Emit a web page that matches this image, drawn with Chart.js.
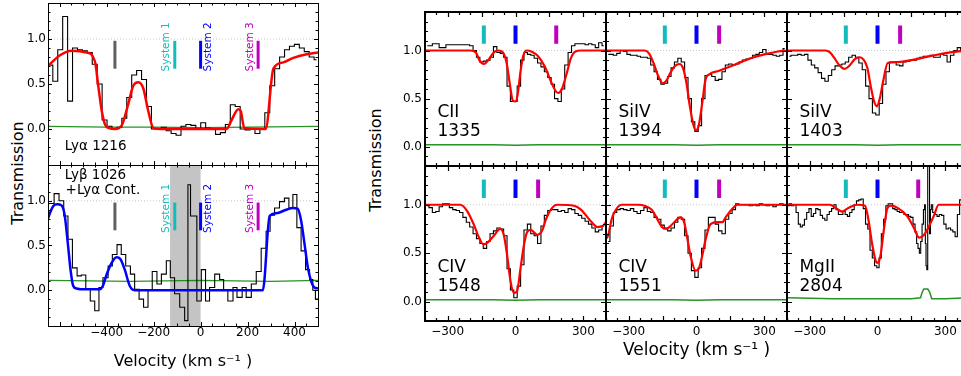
<!DOCTYPE html>
<html>
<head>
<meta charset="utf-8">
<script src="https://cdn.jsdelivr.net/npm/chart.js@4.4.1/dist/chart.umd.min.js"></script>
<style>
body{margin:0;background:#fff;width:961px;height:376px;overflow:hidden;position:relative;font-family:"DejaVu Sans",sans-serif}
canvas{position:absolute}
.ylab{position:absolute;font-size:16px;white-space:nowrap;transform:translate(-50%,-50%) rotate(-90deg)}
</style>
</head>
<body>
<div class="ylab" style="left:17px;top:173px">Transmission</div>
<div class="ylab" style="left:375px;top:160px">Transmission</div>
<script>
// Lyman alpha: binned flux on a regular velocity grid (km/s)
var lyaStart = -640, lyaStep = 21;
var lyaFlux = [0.71,0.53,0.88,1.25,0.31,0.9,0.88,0.87,0.85,0.72,0.5,0.1,0.03,0.0,0.02,0.12,0.35,0.6,0.65,0.55,
  0.25,0.0,0.0,0.02,-0.02,-0.05,-0.07,0.03,0.05,0.04,0.0,0.07,0.01,0.0,-0.06,-0.04,0.05,0.27,0.25,0.0,
  -0.01,0.0,-0.05,0.0,0.18,0.48,0.67,0.8,0.88,0.92,0.94,0.9,0.86,0.8,0.77];
var lyaModelVel = [-650,-599,-549,-485,-450,-436,-421,-407,-390,-365,-336,-308,-287,-265,-244,-223,-201,-173,111,132,161,171,186,277,310,352,395,452,500];
var lyaModelFlux = [0.7,0.82,0.87,0.85,0.75,0.48,0.2,0.05,0.01,0.0,0.04,0.28,0.48,0.52,0.45,0.2,0.01,0.0,0.0,0.1,0.22,0.2,0.01,0.0,0.67,0.74,0.79,0.83,0.85];
var lyaErrVel = [-650,-400,-200,0,200,500];
var lyaErrFlux = [0.03,0.02,0.02,0.015,0.02,0.03];

// Lyman beta (+ Lyman alpha contamination): bin left edges and flux
var lybEdges = [-650,-624,-603,-583,-565,-546,-526,-508,-489,-470,-451,-433,-416,-394,-376,-356,-338,-319,-299,-281,
  -262,-243,-224,-206,-186,-167,-146,-129,-111,-89,-68,-54,-43,-16,3,21,38,60,81,98,
  116,138,155,177,194,216,237,258,279,296,315,336,357,376,393,410,428,447,464,478,489,500];
var lybFlux = [0.97,1.08,1.0,0.83,0.57,0.25,0.16,0.17,0.01,-0.12,-0.23,0.03,0.14,0.27,0.4,0.51,0.4,0.27,0.18,0.01,
  -0.1,-0.19,0.0,0.21,0.07,0.18,0.33,0.14,-0.04,-0.19,-0.34,1.18,0.83,-0.12,0.23,-0.12,0.03,0.18,0.12,0.0,
  -0.12,0.03,-0.08,0.03,-0.08,0.07,0.21,0.47,0.66,0.84,0.92,0.99,1.03,0.92,1.07,0.7,0.44,0.23,0.12,0.0,-0.1,-0.1];
var lybModelVel = [-650,-645,-628,-611,-593,-579,-565,-555,-543,-529,-487,-430,-416,-401,-380,-359,-342,-323,-302,-281,265,294,322,365,393,414,428,443,457,471,485,500];
var lybModelFlux = [0.8,0.84,0.94,0.96,0.95,0.84,0.51,0.25,0.05,0.02,0.01,0.01,0.05,0.17,0.3,0.37,0.35,0.23,0.05,0.0,0.0,0.83,0.86,0.9,0.92,0.91,0.78,0.51,0.25,0.1,0.03,0.02];
var lybErrVel = [-650,-300,0,300,500];
var lybErrFlux = [0.11,0.1,0.11,0.1,0.11];
var lybMaskedVel = [-130, 0];

// metal lines: regular 15 km/s grid
var metalStart = -390, metalStep = 15;
var ciiFlux = [1.05,1.05,1.07,1.07,1.03,1.03,1.06,1.06,1.06,1.06,1.06,1.06,1.06,1.05,1.0,0.93,0.88,0.89,0.9,0.93,
  1.04,0.98,0.97,0.93,0.63,0.47,0.47,0.63,0.9,0.98,0.96,0.95,0.92,0.87,0.83,0.78,0.72,0.65,0.5,0.47,
  0.6,0.85,0.98,1.05,1.07,1.07,1.07,1.06,1.07,1.06,1.03,1.08,1.05];
var ciiModelVel = [-400,-200,-175,-160,-140,-120,-100,-80,-60,-40,-25,-12,0,10,22,35,50,70,100,130,160,180,190,205,225,245,265,290,400];
var ciiModelFlux = [1,1,0.98,0.9,0.86,0.9,0.97,1.0,0.99,0.88,0.65,0.48,0.47,0.55,0.78,0.95,1.0,0.99,0.94,0.83,0.66,0.57,0.56,0.6,0.75,0.92,0.99,1.0,1.0];

var siiv1394Flux = [0.96,0.96,0.95,0.97,1.0,0.99,0.96,0.95,0.95,0.94,0.93,0.93,0.92,0.85,0.78,0.7,0.65,0.66,0.73,0.82,
  0.88,0.92,0.88,0.72,0.5,0.26,0.16,0.22,0.5,0.74,0.75,0.73,0.69,0.7,0.78,0.85,0.86,0.85,0.86,0.88,
  0.9,0.91,0.92,0.95,0.96,0.98,1.01,0.96,0.96,0.95,0.94,0.95,1.02];
var siiv1394ModelVel = [-400,-230,-210,-190,-170,-150,-135,-115,-95,-75,-60,-45,-30,-15,-3,10,25,40,55,100,166,240,300,360,400];
var siiv1394ModelFlux = [1,1,0.97,0.87,0.74,0.66,0.68,0.77,0.84,0.86,0.82,0.67,0.43,0.24,0.17,0.22,0.45,0.7,0.75,0.79,0.85,0.92,0.96,0.99,1.0];

var siiv1403Flux = [0.94,0.95,0.95,0.96,0.95,0.96,0.9,0.85,0.82,0.77,0.71,0.68,0.74,0.8,0.84,0.85,0.86,0.88,0.93,0.95,
  0.93,0.87,0.8,0.63,0.5,0.35,0.33,0.45,0.65,0.78,0.88,0.88,0.85,0.84,0.88,0.89,0.9,0.9,0.92,0.93,
  0.94,0.94,0.95,0.93,0.93,0.96,0.95,0.88,0.95,1.0,1.03,1.0,1.0];
var siiv1403ModelVel = [-400,-230,-210,-190,-170,-145,-125,-100,-80,-60,-45,-30,-15,-2,10,25,45,90,150,250,320,400];
var siiv1403ModelFlux = [1,1,0.98,0.92,0.85,0.81,0.84,0.91,0.93,0.9,0.82,0.63,0.47,0.42,0.5,0.68,0.87,0.88,0.9,0.95,0.98,1.0];

var civ1548Flux = [0.99,0.97,0.92,0.93,0.98,1.01,1.01,0.97,0.95,0.94,0.92,0.87,0.82,0.77,0.7,0.65,0.6,0.55,0.62,0.7,
  0.73,0.76,0.75,0.68,0.34,0.12,0.04,0.16,0.38,0.74,0.8,0.7,0.68,0.6,0.78,0.89,0.94,0.95,0.95,0.93,
  0.94,0.92,0.96,0.95,0.91,0.89,0.86,0.83,0.8,0.76,0.72,0.74,0.78];
var civ1548ModelVel = [-400,-244,-215,-185,-163,-141,-119,-96,-67,-52,-37,-22,-7,7,22,37,52,67,96,119,133,156,185,259,289,333,363,385,400];
var civ1548ModelFlux = [1,1,0.94,0.8,0.67,0.59,0.62,0.68,0.75,0.69,0.48,0.21,0.09,0.11,0.34,0.58,0.72,0.74,0.69,0.74,0.84,0.95,1.0,0.99,0.95,0.83,0.77,0.78,0.82];

var civ1551Flux = [0.62,0.78,0.92,0.95,0.96,0.95,0.94,0.96,0.93,0.91,0.94,0.97,0.93,0.92,0.87,0.85,0.79,0.76,0.73,0.76,
  0.82,0.87,0.85,0.68,0.5,0.32,0.25,0.35,0.55,0.74,0.87,0.87,0.8,0.73,0.7,0.85,0.91,0.95,1.01,1.0,
  1.0,1.0,0.99,1.0,0.99,1.01,1.0,0.99,1.0,0.98,1.0,1.01,1.0];
var civ1551ModelVel = [-400,-391,-375,-361,-332,-258,-230,-199,-175,-153,-135,-115,-90,-71,-56,-41,-27,-4,10,25,40,62,92,114,129,159,181,400];
var civ1551ModelFlux = [0.65,0.68,0.85,0.93,1.0,1.0,0.99,0.95,0.86,0.77,0.75,0.78,0.84,0.87,0.83,0.66,0.48,0.32,0.34,0.47,0.64,0.8,0.82,0.82,0.87,0.96,1.0,1.0];

// MgII is on a finer, uneven grid: bin centres and flux
var mgiiVel = [-396,-385,-375,-365,-355,-345,-337,-328,-318,-308,-298,-288,-278,-268,-258,-248,-238,-228,-218,-208,
  -198,-188,-178,-168,-158,-148,-138,-128,-118,-108,-98,-88,-78,-68,-58,-48,-38,-28,-18,-8,
  2,12,22,32,42,52,62,72,82,92,102,112,122,132,142,152,162,170,176,182,
  188,194,200,206,210,213,216,220,224,228,232,236,240,248,258,268,278,288,298,308,
  318,328,338,348,358,368,380,392];
var mgiiFlux = [0.99,1.01,0.99,1.0,0.92,0.8,0.77,0.79,0.85,0.92,0.96,0.88,0.91,0.96,0.95,0.89,0.86,0.84,0.9,0.93,
  0.96,1.0,0.95,0.9,0.9,0.93,0.9,0.88,0.92,0.95,1.0,1.04,1.05,1.06,0.96,0.8,0.75,0.53,0.45,0.37,
  0.35,0.45,0.7,0.85,0.99,1.01,1.01,0.96,0.95,0.93,0.92,0.92,0.9,0.9,0.88,0.87,0.8,0.72,0.6,0.55,
  0.5,0.62,0.8,0.95,1.0,0.6,0.37,0.33,1.6,1.6,0.7,0.95,1.0,0.92,0.9,0.88,0.9,0.89,0.8,0.75,
  0.76,0.74,0.72,0.67,0.9,1.05,1.0,1.0];
var mgiiModelVel = [-400,-210,-187,-157,-127,-90,-55,-39,-24,-9,-1,13,28,43,58,87,132,161,184,206,228,250,270,400];
var mgiiModelFlux = [1,1,0.97,0.93,0.97,1.0,0.99,0.83,0.6,0.43,0.4,0.47,0.74,0.96,0.99,0.97,0.88,0.76,0.66,0.69,0.78,0.89,1.0,1.0];
var mgiiErrVel = [-400,-200,0,150,190,198,205,222,230,240,300,400];
var mgiiErrFlux = [0.04,0.03,0.03,0.03,0.04,0.1,0.13,0.13,0.1,0.03,0.03,0.04];

var metalErrVel = [-400,-100,0,100,400];
var metalErrFlux = [0.02,0.02,0.015,0.02,0.02];

// component velocities (km/s)
var hiInterloperVel = -365;
var hiSystemVel = [-110, 0, 245];
var hiSystemLabelVel = [-146, 31, 211];
var metalSystemVel = [-140, 0, 100];
var lowIonSystemVel = [-140, 0, 180];

var CYAN = '#12bcbc', BLUE = '#0000ff', MAGENTA = '#bf00bf', GREY = '#606060';
var FONT = '"DejaVu Sans", sans-serif';

function onGrid(start, step, vals) {
  return vals.map(function (f, i) { return {x: start + i * step, y: f}; });
}
function pairs(vs, fs) {
  return vs.map(function (v, i) { return {x: v, y: fs[i]}; });
}
function tickMarks(min, max, minorStep, majorStep) {
  var out = [];
  for (var v = Math.ceil(min / minorStep) * minorStep; v <= max + 1e-9; v += minorStep) {
    var r = Math.round(v / majorStep);
    out.push({v: v, major: Math.abs(v - r * majorStep) < minorStep / 10});
  }
  return out;
}
function fmt(v, dec) {
  var s = Math.abs(v).toFixed(dec);
  return v < -1e-9 ? '\u2212' + s : s;
}

// frame, inward ticks, shaded mask and text annotations
var panelDecor = {
  id: 'panelDecor',
  beforeDatasetsDraw: function (chart, args, o) {
    if (!o.band) return;
    var a = chart.chartArea, xs = chart.scales.x, ctx = chart.ctx;
    var x0 = xs.getPixelForValue(o.band[0]), x1 = xs.getPixelForValue(o.band[1]);
    ctx.save();
    ctx.fillStyle = '#c4c4c4';
    ctx.fillRect(x0, a.top, x1 - x0, a.bottom - a.top);
    ctx.restore();
  },
  afterDatasetsDraw: function (chart, args, o) {
    var ctx = chart.ctx, a = chart.chartArea, xs = chart.scales.x, ys = chart.scales.y;
    ctx.save();
    (o.texts || []).forEach(function (t) {
      var px = xs.getPixelForValue(t.v), py = ys.getPixelForValue(t.f);
      ctx.font = t.size + 'px ' + FONT;
      ctx.fillStyle = t.color || '#000';
      ctx.textAlign = 'left';
      ctx.textBaseline = 'middle';
      if (t.rotate) {
        ctx.save();
        ctx.translate(px, py);
        ctx.rotate(-Math.PI / 2);
        ctx.fillText(t.text, 0, 0);
        ctx.restore();
      } else {
        ctx.fillText(t.text, px, py);
      }
    });
    ctx.strokeStyle = '#000';
    ctx.lineWidth = o.tickWidth;
    ctx.beginPath();
    o.xTicks.forEach(function (t) {
      var px = Math.round(xs.getPixelForValue(t.v)) + 0.5;
      var len = t.major ? o.majorLen : o.minorLen;
      ctx.moveTo(px, a.bottom); ctx.lineTo(px, a.bottom - len);
      ctx.moveTo(px, a.top); ctx.lineTo(px, a.top + len);
    });
    o.yTicks.forEach(function (t) {
      var py = Math.round(ys.getPixelForValue(t.v)) + 0.5;
      var len = t.major ? o.majorLen : o.minorLen;
      ctx.moveTo(a.left, py); ctx.lineTo(a.left + len, py);
      ctx.moveTo(a.right, py); ctx.lineTo(a.right - len, py);
    });
    ctx.stroke();
    var off = o.frameWidth % 2 ? 0.5 : 0;
    ctx.lineWidth = o.frameWidth;
    ctx.strokeRect(a.left + off, a.top + off, a.right - a.left, a.bottom - a.top);
    ctx.restore();
  }
};

function addPanel(p) {
  var padL = p.yLabels ? 40 : 2, padR = 2, padT = 2, padB = p.padB || 2;
  var c = document.createElement('canvas');
  c.width = p.w + padL + padR;
  c.height = p.h + padT + padB;
  c.style.left = (p.l - padL) + 'px';
  c.style.top = (p.t - padT) + 'px';
  document.body.appendChild(c);

  var ds = [];
  ds.push({data: p.model, borderColor: p.modelColor || '#ff0000', borderWidth: p.modelWidth, cubicInterpolationMode: 'monotone'});
  ds.push({data: p.hist, borderColor: '#000', borderWidth: 1.1, stepped: p.stepMode});
  ds.push({data: p.err, borderColor: 'rgba(0,128,0,0.85)', borderWidth: p.errWidth || 1.2});
  p.marks.forEach(function (m) {
    ds.push({data: [{x: m.v, y: m.lo}, {x: m.v, y: m.hi}], borderColor: m.color, borderWidth: m.width, borderCapStyle: 'butt'});
  });
  ds.push({data: [{x: p.xmin, y: 1}, {x: p.xmax, y: 1}], borderColor: '#c8c8c8', borderWidth: 1, borderDash: [1, 2]});

  new Chart(c, {
    type: 'line',
    data: {datasets: ds},
    plugins: [panelDecor],
    options: {
      responsive: false,
      animation: false,
      devicePixelRatio: 1,
      events: [],
      layout: {padding: {left: 0, right: padR, top: padT, bottom: 0}},
      elements: {point: {radius: 0}, line: {fill: false}},
      plugins: {
        legend: {display: false},
        tooltip: {enabled: false},
        panelDecor: {
          band: p.band, texts: p.texts,
          xTicks: tickMarks(p.xmin, p.xmax, p.xMinor, p.xMajor),
          yTicks: tickMarks(p.ymin, p.ymax, 0.1, 0.5),
          majorLen: p.majorLen, minorLen: p.minorLen, tickWidth: p.tickWidth, frameWidth: p.frameWidth
        }
      },
      scales: {
        x: {
          type: 'linear', min: p.xmin, max: p.xmax,
          grid: {display: false, drawTicks: false}, border: {display: false},
          ticks: {display: !!p.xLabels, padding: p.xPad || 0, color: '#000', font: {size: 12, family: FONT},
            maxRotation: 0, callback: function (v) { return fmt(v, 0); }},
          afterBuildTicks: function (s) { s.ticks = (p.xLabels || []).map(function (v) { return {value: v}; }); },
          afterFit: function (s) { s.height = padB; s.paddingLeft = 0; s.paddingRight = 0; },
          title: {display: !!p.xTitle, text: p.xTitle || '', color: '#000',
            font: {size: p.xTitleSize || 16, family: FONT}, padding: {top: 0, bottom: p.xTitlePad || 0}}
        },
        y: {
          type: 'linear', min: p.ymin, max: p.ymax,
          grid: {display: false, drawTicks: false}, border: {display: false},
          ticks: {display: !!p.yLabels, padding: p.yPad || 3, color: '#000', font: {size: 12, family: FONT},
            callback: function (v) { return fmt(v, 1); }},
          afterBuildTicks: function (s) { s.ticks = [0, 0.5, 1].map(function (v) { return {value: v}; }); },
          afterFit: function (s) { s.width = padL; s.paddingTop = 0; s.paddingBottom = 0; }
        }
      }
    }
  });
}

Chart.defaults.font.family = FONT;

// ---- left column: HI lines ----
function hiMarks() {
  var cols = [CYAN, BLUE, MAGENTA];
  var m = [{v: hiInterloperVel, lo: 0.67, hi: 0.98, color: GREY, width: 3}];
  hiSystemVel.forEach(function (v, i) { m.push({v: v, lo: 0.67, hi: 0.98, color: cols[i], width: 3}); });
  return m;
}
function hiSystemTexts() {
  var cols = [CYAN, BLUE, MAGENTA];
  return hiSystemLabelVel.map(function (v, i) {
    return {text: 'System ' + (i + 1), v: v, f: 0.64, size: 10.5, color: cols[i], rotate: true};
  });
}
var leftCommon = {l: 48, w: 270, xmin: -650, xmax: 500, ymin: -0.4, ymax: 1.4, xMinor: 50, xMajor: 200,
  majorLen: 4, minorLen: 2.5, tickWidth: 1, frameWidth: 1, modelWidth: 2.5, yLabels: true, yPad: 2};

addPanel(Object.assign({}, leftCommon, {
  t: 3, h: 162,
  hist: onGrid(lyaStart, lyaStep, lyaFlux), stepMode: 'middle',
  model: pairs(lyaModelVel, lyaModelFlux),
  err: pairs(lyaErrVel, lyaErrFlux),
  marks: hiMarks(),
  texts: hiSystemTexts().concat([{text: 'Ly\u03b1 1216', v: -579, f: -0.19, size: 13.5}])
}));
addPanel(Object.assign({}, leftCommon, {
  t: 165, h: 161, padB: 50,
  hist: pairs(lybEdges, lybFlux), stepMode: 'before',
  model: pairs(lybModelVel, lybModelFlux), modelColor: '#0000ff',
  err: pairs(lybErrVel, lybErrFlux),
  band: lybMaskedVel,
  marks: hiMarks(),
  texts: hiSystemTexts().concat([
    {text: 'Ly\u03b2 1026', v: -579, f: 1.28, size: 13.5},
    {text: '+Ly\u03b1 Cont.', v: -575, f: 1.11, size: 13.5}
  ]),
  xLabels: [-400, -200, 0, 200, 400], xPad: 0,
  xTitle: 'Velocity (km s\u207b\u00b9 )', xTitleSize: 16, xTitlePad: 5
}));

// ---- right block: metal lines ----
var metalPanels = [
  {name: 'CII', wave: '1335', hist: onGrid(metalStart, metalStep, ciiFlux), model: pairs(ciiModelVel, ciiModelFlux), sys: lowIonSystemVel},
  {name: 'SiIV', wave: '1394', hist: onGrid(metalStart, metalStep, siiv1394Flux), model: pairs(siiv1394ModelVel, siiv1394ModelFlux), sys: metalSystemVel},
  {name: 'SiIV', wave: '1403', hist: onGrid(metalStart, metalStep, siiv1403Flux), model: pairs(siiv1403ModelVel, siiv1403ModelFlux), sys: metalSystemVel},
  {name: 'CIV', wave: '1548', hist: onGrid(metalStart, metalStep, civ1548Flux), model: pairs(civ1548ModelVel, civ1548ModelFlux), sys: metalSystemVel},
  {name: 'CIV', wave: '1551', hist: onGrid(metalStart, metalStep, civ1551Flux), model: pairs(civ1551ModelVel, civ1551ModelFlux), sys: metalSystemVel},
  {name: 'MgII', wave: '2804', hist: pairs(mgiiVel, mgiiFlux), model: pairs(mgiiModelVel, mgiiModelFlux), sys: lowIonSystemVel,
    err: pairs(mgiiErrVel, mgiiErrFlux)}
];
var colLeft = [425, 606, 787], rowTop = [12, 166], rowH = [154, 155];

metalPanels.forEach(function (m, i) {
  var col = i % 3, row = Math.floor(i / 3);
  var cols = [CYAN, BLUE, MAGENTA];
  var p = {
    l: colLeft[col], w: 181, t: rowTop[row], h: rowH[row],
    xmin: -400, xmax: 400, ymin: -0.2, ymax: 1.4, xMinor: 50, xMajor: 150,
    majorLen: 5, minorLen: 3, tickWidth: 1.2, frameWidth: 2, modelWidth: 2.2, errWidth: 1.5,
    hist: m.hist, stepMode: 'middle', model: m.model,
    err: m.err || pairs(metalErrVel, metalErrFlux),
    marks: m.sys.map(function (v, k) { return {v: v, lo: 1.07, hi: 1.26, color: cols[k], width: 4}; }),
    texts: [{text: m.name, v: -345, f: 0.35, size: 17}, {text: m.wave, v: -345, f: 0.155, size: 17}],
    yLabels: col === 0, yPad: 3
  };
  if (row === 1) {
    p.xLabels = [-300, 0, 300];
    p.xPad = 4;
    p.padB = 25;
    if (col === 1) {
      p.padB = 55;
      p.xTitle = 'Velocity (km s\u207b\u00b9 )';
      p.xTitleSize = 17;
      p.xTitlePad = 15;
    }
  }
  addPanel(p);
});
</script>
</body>
</html>
